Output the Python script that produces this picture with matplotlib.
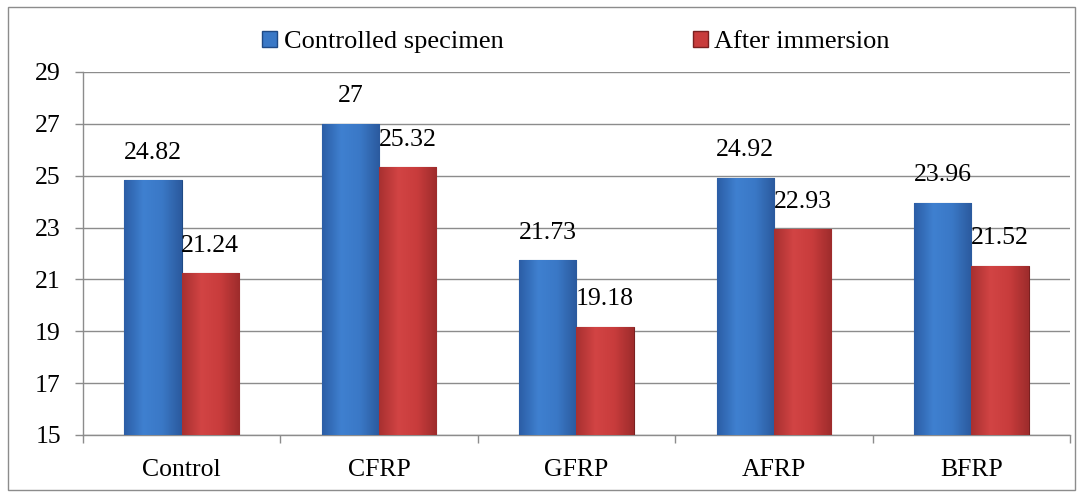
import matplotlib.pyplot as plt
import numpy as np
from matplotlib.colors import LinearSegmentedColormap
from matplotlib.patches import Patch, Rectangle

categories = ['Control', 'CFRP', 'GFRP', 'AFRP', 'BFRP']
controlled = [24.82, 27, 21.73, 24.92, 23.96]
after_immersion = [21.24, 25.32, 19.18, 22.93, 21.52]
series_names = ['Controlled specimen', 'After immersion']
yticks = [15, 17, 19, 21, 23, 25, 27, 29]

plt.rcParams['font.family'] = ['Liberation Serif', 'DejaVu Serif']

blue_cmap = LinearSegmentedColormap.from_list(
    'blue_bar', ['#2C5EA6', '#3F80D0', '#3A78C6', '#2B5A9E'])
red_cmap = LinearSegmentedColormap.from_list(
    'red_bar', ['#A83030', '#D24444', '#C83C3C', '#9E2C2C'])


def shade_bars(ax, bars, cmap):
    # horizontal gradient inside each bar, a rough take on the bevel look
    grad = np.linspace(0, 1, 64).reshape(1, -1)
    for bar in bars:
        x0, y0 = bar.get_x(), bar.get_y()
        w, h = bar.get_width(), bar.get_height()
        im = ax.imshow(grad, cmap=cmap, aspect='auto',
                       extent=(x0, x0 + w, y0, y0 + h), zorder=3)
        im.set_clip_path(bar)


fig = plt.figure(figsize=(10.81, 4.92), dpi=100)
ax = fig.add_axes([0.0768, 0.1159, 0.9130, 0.7378])

ymin, ymax = yticks[0], yticks[-1]
x = np.arange(len(categories))
width = 0.29
b1 = ax.bar(x - width / 2, np.array(controlled) - ymin, width, bottom=ymin,
            color='#3A78C6', edgecolor='#1F4A85', linewidth=0.8, zorder=3)
b2 = ax.bar(x + width / 2, np.array(after_immersion) - ymin, width, bottom=ymin,
            color='#C83C3C', edgecolor='#7A2020', linewidth=0.8, zorder=3)
shade_bars(ax, b1, blue_cmap)
shade_bars(ax, b2, red_cmap)

for bars, vals in ((b1, controlled), (b2, after_immersion)):
    for bar, v in zip(bars, vals):
        ax.annotate(f'{v:g}', (bar.get_x() + bar.get_width() / 2, v),
                    xytext=(0, 12), textcoords='offset points',
                    ha='center', va='bottom', fontsize=18.5)

ax.set_xlim(-0.5, len(categories) - 0.5)
ax.set_ylim(ymin, ymax)
ax.set_yticks(yticks)
ax.yaxis.grid(True, color='#8C8C8C', linewidth=1.0, zorder=0)
ax.set_axisbelow(True)

ax.set_xticks(x)
ax.set_xticklabels(categories)
ax.set_xticks(np.arange(-0.5, len(categories) + 0.5, 1), minor=True)
ax.tick_params(axis='x', which='major', length=0, pad=17, labelsize=18.5)
ax.tick_params(axis='x', which='minor', length=6, color='#8C8C8C', width=1.0)
ax.tick_params(axis='y', length=6, color='#8C8C8C', width=1.0, pad=10,
               labelsize=18.5)

for side in ('top', 'right'):
    ax.spines[side].set_visible(False)
for side in ('left', 'bottom'):
    ax.spines[side].set_color('#8C8C8C')
    ax.spines[side].set_linewidth(1.0)

handles = [Patch(facecolor='#3A78C6', edgecolor='#1F4A85'),
           Patch(facecolor='#C83C3C', edgecolor='#7A2020')]
fig.legend(handles, series_names, loc='center', bbox_to_anchor=(0.533, 0.915),
           ncol=2, frameon=False, fontsize=19, handlelength=0.55,
           handleheight=0.55, handletextpad=0.25, columnspacing=7.2)

fig.patches.append(Rectangle((0.0075, 0.004), 0.987, 0.982,
                             transform=fig.transFigure, fill=False,
                             edgecolor='#8C8C8C', linewidth=1.0))

fig.savefig('out.png', dpi=100)
